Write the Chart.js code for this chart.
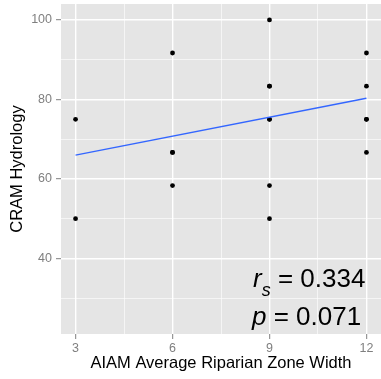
<!DOCTYPE html>
<html>
<head>
<meta charset="utf-8">
<script src="https://cdn.jsdelivr.net/npm/chart.js@4"></script>
<style>
  html, body { margin: 0; padding: 0; background: #ffffff; }
  #wrap { position: relative; width: 381px; height: 379px; }
</style>
</head>
<body>
<div id="wrap"><canvas id="chart"></canvas></div>
<script>
// Riparian zone width (x) against CRAM hydrology score (y), one entry per site
const widthX     = [3, 3, 6, 6, 6, 6, 9, 9, 9, 9, 9, 9, 9, 12, 12, 12, 12, 12];
const hydrologyY = [75, 50, 91.67, 66.67, 66.67, 58.33, 100, 83.33, 83.33, 75, 75, 58.33, 50, 91.67, 83.33, 75, 75, 66.67];

// Fitted linear trend, evaluated at the ends of the x range
const fitX = [3, 12];
const fitY = [66.0, 80.3];

// Axis breaks
const xMajorTicks = [3, 6, 9, 12];
const xMinorTicks = [4.5, 7.5, 10.5];
const yMajorTicks = [40, 60, 80, 100];
const yMinorTicks = [30, 50, 70, 90];

// Spearman statistics shown in the panel
const rsValue = '0.334';
const pValue = '0.071';

const FONT = '"Liberation Sans", Arial, sans-serif';
const TICK_GREY = '#7f7f7f';

const isMajor = (list, v) => list.some(m => Math.abs(m - v) < 1e-6);

const panelBackground = {
  id: 'panelBackground',
  beforeDraw(chart) {
    const { ctx, chartArea: a } = chart;
    ctx.save();
    ctx.fillStyle = '#e5e5e5';
    ctx.fillRect(a.left, a.top, a.right - a.left, a.bottom - a.top);
    ctx.restore();
  }
};

const statsLabel = {
  id: 'statsLabel',
  afterDatasetsDraw(chart) {
    const { ctx } = chart;
    ctx.save();
    ctx.fillStyle = '#000000';
    ctx.textBaseline = 'alphabetic';
    ctx.textAlign = 'left';
    let x = 253, y = 287;
    ctx.font = 'italic 26px ' + FONT;
    ctx.fillText('r', x, y);
    x += ctx.measureText('r').width;
    ctx.font = 'italic 18px ' + FONT;
    ctx.fillText('s', x, y + 9);
    x += ctx.measureText('s').width;
    ctx.font = '26px ' + FONT;
    ctx.fillText(' = ' + rsValue, x, y);

    x = 252; y = 325;
    ctx.font = 'italic 26px ' + FONT;
    ctx.fillText('p', x, y);
    x += ctx.measureText('p').width;
    ctx.font = '26px ' + FONT;
    ctx.fillText(' = ' + pValue, x, y);
    ctx.restore();
  }
};

new Chart(document.getElementById('chart'), {
  type: 'scatter',
  data: {
    datasets: [
      {
        label: 'Sites',
        data: widthX.map((x, i) => ({ x, y: hydrologyY[i] })),
        backgroundColor: '#000000',
        borderColor: '#000000',
        pointRadius: 2.4,
        borderWidth: 0,
        order: 2
      },
      {
        label: 'Linear fit',
        type: 'line',
        data: fitX.map((x, i) => ({ x, y: fitY[i] })),
        borderColor: '#3366ff',
        borderWidth: 1.4,
        pointRadius: 0,
        fill: false,
        order: 1
      }
    ]
  },
  options: {
    responsive: true,
    maintainAspectRatio: false,
    animation: false,
    layout: { autoPadding: false, padding: { top: 4, right: 0, left: 0, bottom: 0 } },
    plugins: {
      legend: { display: false },
      tooltip: { enabled: false }
    },
    scales: {
      x: {
        type: 'linear',
        min: 2.55,
        max: 12.45,
        afterBuildTicks(scale) {
          scale.ticks = [...xMajorTicks, ...xMinorTicks].sort((a, b) => a - b).map(v => ({ value: v }));
        },
        afterFit(scale) {
          scale.height = 45;
          scale.paddingLeft = 0;
          scale.paddingRight = 0;
        },
        border: { display: false },
        grid: {
          color: '#ffffff',
          lineWidth: ctx => isMajor(xMajorTicks, ctx.tick.value) ? 1.4 : 0.6,
          drawTicks: true,
          tickLength: 5,
          tickColor: ctx => isMajor(xMajorTicks, ctx.tick.value) ? TICK_GREY : 'rgba(0,0,0,0)',
          tickWidth: 1
        },
        ticks: {
          autoSkip: false,
          maxRotation: 0,
          padding: 2,
          color: TICK_GREY,
          font: { family: FONT, size: 12.5 },
          callback: v => isMajor(xMajorTicks, v) ? String(v) : ''
        },
        title: {
          display: true,
          text: 'AIAM Average Riparian Zone Width',
          color: '#000000',
          font: { family: FONT, size: 16.5 },
          padding: { top: 0, bottom: 6 }
        }
      },
      y: {
        type: 'linear',
        min: 21,
        max: 104,
        afterBuildTicks(scale) {
          scale.ticks = [...yMajorTicks, ...yMinorTicks].sort((a, b) => a - b).map(v => ({ value: v }));
        },
        afterFit(scale) {
          scale.width = 61;
          scale.paddingTop = 0;
          scale.paddingBottom = 0;
        },
        border: { display: false },
        grid: {
          color: '#ffffff',
          lineWidth: ctx => isMajor(yMajorTicks, ctx.tick.value) ? 1.4 : 0.6,
          drawTicks: true,
          tickLength: 5,
          tickColor: ctx => isMajor(yMajorTicks, ctx.tick.value) ? TICK_GREY : 'rgba(0,0,0,0)',
          tickWidth: 1
        },
        ticks: {
          autoSkip: false,
          padding: 4,
          color: TICK_GREY,
          font: { family: FONT, size: 12.5 },
          callback: v => isMajor(yMajorTicks, v) ? String(v) : ''
        },
        title: {
          display: true,
          text: 'CRAM Hydrology',
          color: '#000000',
          font: { family: FONT, size: 16.5 },
          padding: { top: 8, bottom: 0 }
        }
      }
    }
  },
  plugins: [panelBackground, statsLabel]
});
</script>
</body>
</html>
